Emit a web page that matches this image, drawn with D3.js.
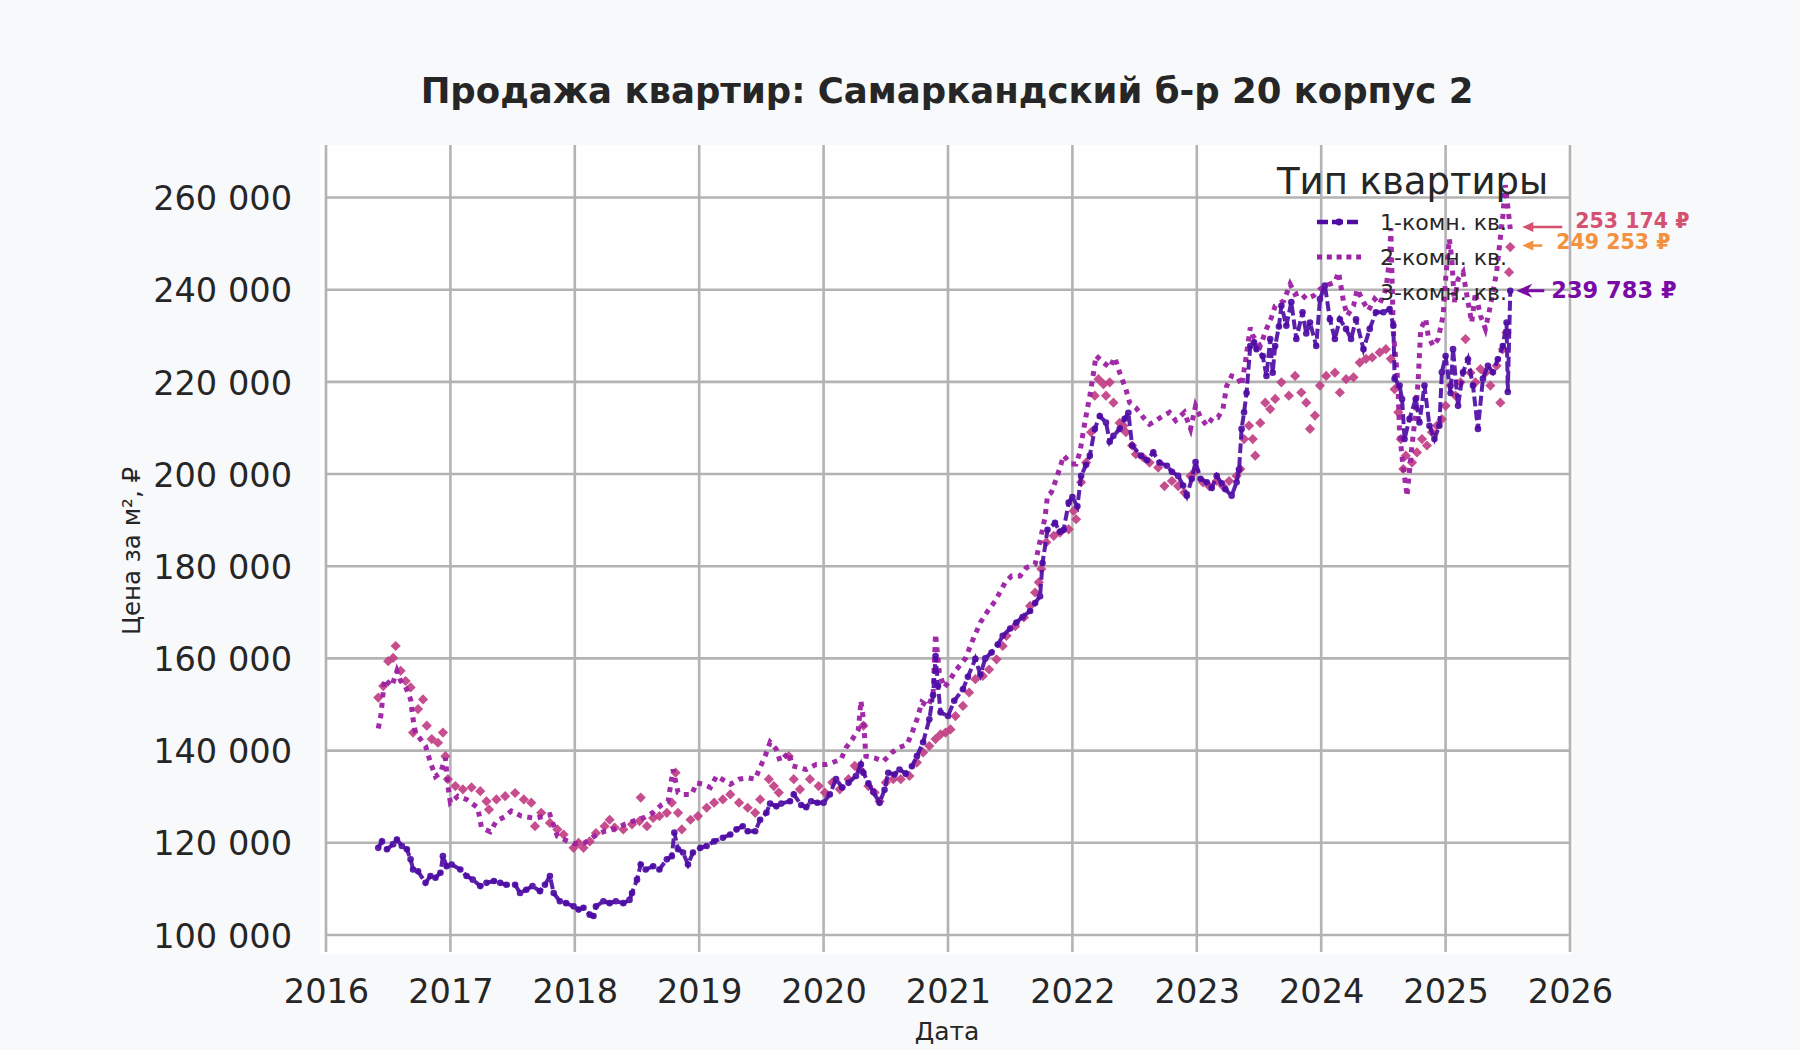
<!DOCTYPE html>
<html>
<head>
<meta charset="utf-8">
<script src="https://cdn.jsdelivr.net/npm/d3@7"></script>
<style>
  html, body { margin: 0; padding: 0; background: #f8f9fb; }
  svg { display: block; font-family: "DejaVu Sans", sans-serif; }
</style>
</head>
<body>
<div id="chart"></div>
<script>
var chartTitle = "Продажа квартир: Самаркандский б-р 20 корпус 2";
var seriesNames = ["1-комн. кв.", "2-комн. кв.", "3-комн. кв."];
var yearTicks = [2016, 2017, 2018, 2019, 2020, 2021, 2022, 2023, 2024, 2025, 2026];
var priceTicks = [100000, 120000, 140000, 160000, 180000, 200000, 220000, 240000, 260000];

// [год (дробный), цена за м²]
var oneRoom = [
  [2016.42,118900],[2016.45,120300],[2016.49,118600],[2016.54,119700],[2016.57,120700],[2016.61,119300],
  [2016.65,118600],[2016.68,116400],[2016.70,114200],[2016.74,113800],[2016.80,111300],[2016.84,112800],
  [2016.88,112400],[2016.92,113500],[2016.94,117100],[2016.97,114900],[2017.01,115300],[2017.08,114200],
  [2017.13,112800],[2017.18,112000],[2017.24,110600],[2017.29,111300],[2017.35,111700],[2017.40,111300],
  [2017.45,110900],[2017.52,110900],[2017.56,109100],[2017.61,109800],[2017.66,110600],[2017.72,109500],
  [2017.76,110900],[2017.80,112800],[2017.83,109100],[2017.88,107300],[2017.93,106900],[2017.99,106200],
  [2018.03,105500],[2018.07,105900],[2018.12,104400],[2018.15,104100],[2018.17,106200],[2018.23,107300],
  [2018.28,106900],[2018.33,107300],[2018.39,106900],[2018.44,107600],[2018.46,109100],[2018.50,112000],
  [2018.53,115300],[2018.57,114200],[2018.63,114900],[2018.68,114200],[2018.74,116400],[2018.78,117100],
  [2018.80,122200],[2018.83,118600],[2018.87,117900],[2018.91,115300],[2018.95,117900],[2019.01,118900],
  [2019.06,119300],[2019.12,120300],[2019.19,121100],[2019.25,121800],[2019.30,122900],[2019.35,123600],
  [2019.39,122500],[2019.45,122500],[2019.49,125000],[2019.54,126500],[2019.57,128500],[2019.62,127900],
  [2019.66,128500],[2019.73,129000],[2019.76,130500],[2019.82,128200],[2019.86,127700],[2019.90,129000],
  [2019.95,128700],[2020.00,128700],[2020.05,130500],[2020.10,133800],[2020.15,132000],[2020.20,133000],
  [2020.26,134500],[2020.30,137000],[2020.32,135200],[2020.36,132900],[2020.40,131000],[2020.45,128700],
  [2020.49,131500],[2020.52,135200],[2020.57,134800],[2020.61,135900],[2020.66,135000],[2020.71,136600],
  [2020.75,138800],[2020.80,141800],[2020.85,146800],[2020.88,152000],[2020.90,160500],[2020.92,154000],
  [2020.94,148300],[2021.00,147500],[2021.05,150800],[2021.12,153300],[2021.16,156000],[2021.22,159900],
  [2021.26,156500],[2021.30,160000],[2021.35,161300],[2021.40,163000],[2021.44,164900],[2021.50,166500],
  [2021.55,167800],[2021.60,169000],[2021.66,170300],[2021.70,172000],[2021.74,173500],[2021.76,180700],
  [2021.80,187900],[2021.86,189400],[2021.90,187500],[2021.93,187900],[2021.97,193800],[2022.00,195000],
  [2022.04,193000],[2022.07,199600],[2022.11,202000],[2022.14,204000],[2022.18,209800],[2022.22,212600],
  [2022.27,211200],[2022.30,207000],[2022.33,208300],[2022.38,209800],[2022.42,212000],[2022.45,213300],
  [2022.48,206200],[2022.55,204000],[2022.60,203000],[2022.65,204700],[2022.70,202500],[2022.76,201800],
  [2022.80,200500],[2022.85,199600],[2022.89,197500],[2022.92,195300],[2022.96,199000],[2022.99,202600],
  [2023.03,199000],[2023.08,198200],[2023.12,197000],[2023.16,199600],[2023.20,198000],[2023.23,196700],
  [2023.28,195300],[2023.32,198200],[2023.34,201000],[2023.36,209800],[2023.38,213400],[2023.40,217600],
  [2023.43,227800],[2023.46,228600],[2023.48,227100],[2023.53,225600],[2023.56,221300],[2023.59,229300],
  [2023.61,222000],[2023.63,227800],[2023.66,232000],[2023.68,236500],[2023.72,232200],[2023.76,237300],
  [2023.80,229300],[2023.85,235100],[2023.88,230500],[2023.91,232900],[2023.96,227800],[2023.99,238000],
  [2024.03,240900],[2024.07,233600],[2024.11,229300],[2024.15,233600],[2024.20,231500],[2024.24,229300],
  [2024.28,233600],[2024.34,227100],[2024.39,231500],[2024.44,235100],[2024.50,235100],[2024.55,235800],
  [2024.58,232200],[2024.59,220700],[2024.63,219200],[2024.65,216300],[2024.67,207600],[2024.71,212000],
  [2024.76,216300],[2024.79,211200],[2024.83,219200],[2024.87,210500],[2024.91,207600],[2024.95,210500],
  [2024.97,222100],[2025.00,225600],[2025.04,217600],[2025.06,227100],[2025.10,214800],[2025.14,222100],
  [2025.18,224900],[2025.22,219200],[2025.26,209800],[2025.30,220700],[2025.34,223500],[2025.38,222100],
  [2025.42,224900],[2025.46,227800],[2025.49,232900],[2025.50,217800],[2025.52,239783]
];

var twoRoom = [
  [2016.42,144800],[2016.44,147500],[2016.45,150000],[2016.47,155500],[2016.53,154000],[2016.57,157300],
  [2016.60,155100],[2016.64,153800],[2016.68,151100],[2016.70,146800],[2016.72,143900],[2016.80,141000],
  [2016.84,137400],[2016.88,134400],[2016.92,135200],[2016.96,138400],[2016.98,132300],[2017.00,128700],
  [2017.06,130100],[2017.13,129400],[2017.22,127600],[2017.25,123300],[2017.32,122400],[2017.37,124700],
  [2017.44,125700],[2017.49,126900],[2017.57,125800],[2017.68,125300],[2017.80,126100],[2017.86,121400],
  [2017.93,120500],[2018.00,119800],[2018.08,120000],[2018.16,121500],[2018.24,122500],[2018.32,123000],
  [2018.40,124000],[2018.48,124800],[2018.56,125500],[2018.63,126600],[2018.70,128300],[2018.75,129000],
  [2018.79,135900],[2018.83,130900],[2018.87,130500],[2018.94,130500],[2018.98,133000],[2019.03,132700],
  [2019.09,132000],[2019.14,134500],[2019.25,132700],[2019.32,133800],[2019.39,134100],[2019.45,133800],
  [2019.49,136400],[2019.53,138800],[2019.57,141800],[2019.62,140300],[2019.65,137700],[2019.72,139600],
  [2019.75,136700],[2019.86,135900],[2019.94,137000],[2020.02,137000],[2020.07,137400],[2020.14,138100],
  [2020.18,140600],[2020.23,142400],[2020.28,144600],[2020.30,150800],[2020.32,146800],[2020.34,138800],
  [2020.41,138400],[2020.48,137700],[2020.55,139600],[2020.60,140600],[2020.67,141300],[2020.71,143800],
  [2020.75,146700],[2020.79,150500],[2020.84,149600],[2020.88,152200],[2020.90,165300],[2020.93,157000],
  [2020.97,153700],[2021.01,155100],[2021.06,157300],[2021.14,160000],[2021.19,163400],[2021.26,167800],
  [2021.32,170300],[2021.38,172500],[2021.46,176500],[2021.51,177900],[2021.58,177900],[2021.63,179700],
  [2021.70,180400],[2021.74,185500],[2021.78,190600],[2021.80,195300],[2021.83,196000],[2021.87,198900],
  [2021.93,204000],[2021.99,202200],[2022.03,202200],[2022.06,204700],[2022.10,211200],[2022.14,217000],
  [2022.17,222000],[2022.19,225700],[2022.25,224200],[2022.30,223100],[2022.34,225300],[2022.38,222000],
  [2022.43,218400],[2022.46,215500],[2022.51,214400],[2022.57,212300],[2022.62,210800],[2022.67,211600],
  [2022.71,212300],[2022.78,213400],[2022.83,211600],[2022.90,213400],[2022.95,209800],[2022.99,214800],
  [2023.03,212300],[2023.08,210500],[2023.13,212300],[2023.17,212300],[2023.21,214100],[2023.24,219100],
  [2023.28,221300],[2023.33,221000],[2023.36,219200],[2023.39,224200],[2023.43,231800],[2023.45,230000],
  [2023.51,227800],[2023.56,231500],[2023.60,234000],[2023.63,236500],[2023.70,237600],[2023.75,241200],
  [2023.79,239000],[2023.83,239400],[2023.88,238000],[2023.94,238700],[2023.99,240100],[2024.04,240900],
  [2024.11,241600],[2024.14,243800],[2024.18,237300],[2024.21,234400],[2024.26,236500],[2024.29,240100],
  [2024.34,237300],[2024.38,235500],[2024.43,238000],[2024.47,236900],[2024.52,240100],[2024.55,246700],
  [2024.56,253300],[2024.58,230700],[2024.61,222000],[2024.62,217000],[2024.63,209000],[2024.66,201100],
  [2024.68,197500],[2024.69,195200],[2024.73,206200],[2024.76,213400],[2024.78,220600],[2024.80,231500],
  [2024.84,233700],[2024.86,230000],[2024.90,227800],[2024.94,229300],[2024.98,234400],[2025.00,242300],
  [2025.03,251000],[2025.05,246700],[2025.07,237300],[2025.10,242300],[2025.14,243800],[2025.18,237300],
  [2025.21,232900],[2025.24,239400],[2025.28,234400],[2025.32,231500],[2025.36,236500],[2025.41,243800],
  [2025.43,248800],[2025.46,256000],[2025.48,262700],[2025.50,258000],[2025.52,253174]
];

var threeRoom = [
  [2016.42,151500],[2016.46,154000],[2016.50,159400],[2016.54,160100],[2016.56,162700],[2016.60,157300],
  [2016.64,155100],[2016.68,153700],[2016.70,143900],[2016.74,149000],[2016.78,151100],[2016.81,145400],
  [2016.85,142500],[2016.90,141700],[2016.94,143900],[2016.96,138800],[2016.98,133800],[2017.04,132300],
  [2017.10,131600],[2017.17,132000],[2017.24,131200],[2017.29,129000],[2017.31,127200],[2017.37,129400],
  [2017.44,130100],[2017.52,130800],[2017.59,129400],[2017.65,128700],[2017.68,123600],[2017.73,126500],
  [2017.80,124300],[2017.86,122900],[2017.91,121800],[2017.99,118900],[2018.03,120000],[2018.07,118900],
  [2018.12,120300],[2018.17,122100],[2018.24,123600],[2018.28,125000],[2018.32,123300],[2018.39,122900],
  [2018.46,124000],[2018.52,124700],[2018.53,129800],[2018.58,123600],[2018.63,125400],[2018.68,125800],
  [2018.74,126500],[2018.78,128700],[2018.81,135200],[2018.83,126500],[2018.86,122900],[2018.93,125000],
  [2018.99,125800],[2019.06,127600],[2019.12,128700],[2019.19,129400],[2019.25,130500],[2019.32,128700],
  [2019.39,127600],[2019.45,126500],[2019.49,129400],[2019.56,133800],[2019.60,132300],[2019.64,130900],
  [2019.72,138800],[2019.76,133800],[2019.81,131600],[2019.89,133800],[2019.96,132300],[2020.01,130900],
  [2020.07,133100],[2020.13,131600],[2020.20,133800],[2020.25,136700],[2020.29,135900],[2020.32,145400],
  [2020.36,132300],[2020.41,130900],[2020.45,129000],[2020.50,133100],[2020.56,133800],[2020.62,133800],
  [2020.69,134500],[2020.75,137400],[2020.80,139600],[2020.85,141000],[2020.90,142500],[2020.94,143500],
  [2020.98,143900],[2021.02,144600],[2021.06,147500],[2021.12,149700],[2021.17,152600],[2021.22,155500],
  [2021.28,156200],[2021.33,157600],[2021.39,159800],[2021.44,162700],[2021.47,164900],[2021.54,167000],
  [2021.61,168900],[2021.66,171400],[2021.70,174300],[2021.73,176500],[2021.75,179400],[2021.79,185200],
  [2021.85,186600],[2021.90,187300],[2021.97,188000],[2022.01,192000],[2022.03,190200],[2022.07,198200],
  [2022.11,202500],[2022.15,209100],[2022.18,217000],[2022.21,220600],[2022.25,219500],[2022.27,217000],
  [2022.30,219900],[2022.33,215500],[2022.38,211100],[2022.41,210500],[2022.43,209100],[2022.48,206200],
  [2022.51,204300],[2022.57,203600],[2022.62,202500],[2022.69,201400],[2022.74,197400],[2022.80,198500],
  [2022.85,197400],[2022.90,196000],[2022.95,199600],[2022.99,200700],[2023.05,198200],[2023.10,197400],
  [2023.16,198500],[2023.21,197400],[2023.26,198500],[2023.32,199600],[2023.35,201100],[2023.38,207600],
  [2023.42,210500],[2023.45,207600],[2023.47,204000],[2023.51,211100],[2023.55,215500],[2023.59,214100],
  [2023.63,216300],[2023.68,219900],[2023.74,217000],[2023.79,221300],[2023.84,217700],[2023.88,215500],
  [2023.91,209800],[2023.95,212700],[2023.99,219200],[2024.04,221300],[2024.11,222000],[2024.15,217700],
  [2024.20,220600],[2024.26,221000],[2024.31,224200],[2024.36,225000],[2024.41,225300],[2024.47,226400],
  [2024.52,227100],[2024.56,225000],[2024.59,218400],[2024.62,213400],[2024.64,207600],[2024.66,201100],
  [2024.68,204000],[2024.73,202500],[2024.77,204700],[2024.81,207600],[2024.85,206200],[2024.89,209100],
  [2024.93,210500],[2024.97,211900],[2025.00,214800],[2025.04,219200],[2025.08,217000],[2025.12,219900],
  [2025.16,229300],[2025.20,222000],[2025.24,219900],[2025.28,222800],[2025.32,222000],[2025.36,219200],
  [2025.41,223500],[2025.44,215500],[2025.46,227100],[2025.49,230700],[2025.51,243800],[2025.52,249253]
];

var W = 1800, H = 1050;
var margin = { left: 326, right: 230, top: 145, bottom: 98 };

var locale = d3.formatLocale({ decimal: ",", thousands: " ", grouping: [3], currency: ["", " ₽"] });
var fmt = locale.format(",d");

var svg = d3.select("#chart").append("svg")
  .attr("width", W)
  .attr("height", H);

svg.append("rect").attr("width", W).attr("height", H).attr("fill", "#f8f9fb");

var x = d3.scaleLinear().domain([2016, 2026]).range([margin.left, W - margin.right]);
var y = d3.scaleLinear().domain([96300, 271400]).range([H - margin.bottom, margin.top]);

// plot panel
svg.append("rect")
  .attr("x", x.range()[0] - 6).attr("y", y.range()[1])
  .attr("width", x.range()[1] - x.range()[0] + 9)
  .attr("height", y.range()[0] - y.range()[1] + 2)
  .attr("fill", "#fefefe");

// grid
var grid = svg.append("g").attr("stroke", "#b3b3b3").attr("stroke-width", 2.6);
grid.selectAll("line.v").data(yearTicks).enter().append("line")
  .attr("x1", function(d) { return x(d); }).attr("x2", function(d) { return x(d); })
  .attr("y1", y.range()[1]).attr("y2", y.range()[0]);
grid.selectAll("line.h").data(priceTicks).enter().append("line")
  .attr("x1", x.range()[0]).attr("x2", x.range()[1])
  .attr("y1", function(d) { return y(d); }).attr("y2", function(d) { return y(d); });

// axes (labels only)
var xAxis = svg.append("g")
  .attr("transform", "translate(0," + (y.range()[0] + 24) + ")")
  .call(d3.axisBottom(x).tickValues(yearTicks).tickFormat(d3.format("d")).tickSize(0));
var yAxis = svg.append("g")
  .attr("transform", "translate(" + (x.range()[0] - 31) + ",0)")
  .call(d3.axisLeft(y).tickValues(priceTicks).tickFormat(fmt).tickSize(0));
[xAxis, yAxis].forEach(function(a) {
  a.select(".domain").remove();
  a.selectAll("text")
    .attr("font-family", "DejaVu Sans, sans-serif")
    .attr("font-size", 33.6)
    .attr("fill", "#262626");
});
yAxis.selectAll("text").attr("dy", "0.36em");

svg.append("text")
  .attr("x", 947).attr("y", 1040)
  .attr("text-anchor", "middle").attr("font-size", 25).attr("fill", "#262626")
  .text("Дата");
svg.append("text")
  .attr("transform", "translate(140," + 551 + ") rotate(-90)")
  .attr("text-anchor", "middle").attr("font-size", 24.5).attr("fill", "#262626")
  .text("Цена за м², ₽");

svg.append("text")
  .attr("x", 947).attr("y", 103)
  .attr("text-anchor", "middle").attr("font-size", 35.5).attr("font-weight", "bold")
  .attr("fill", "#262626")
  .text(chartTitle);

var line = d3.line()
  .x(function(d) { return x(d[0]); })
  .y(function(d) { return y(d[1]); });

var c1 = "#4e0ca4", c2 = "#9c1fa3", c3 = "#c23f84";

var plot = svg.append("g");

// 3-комн.: ромбы
plot.append("g").selectAll("path").data(threeRoom).enter().append("path")
  .attr("d", d3.symbol().type(d3.symbolSquare).size(52))
  .attr("transform", function(d) { return "translate(" + x(d[0]) + "," + y(d[1]) + ") rotate(45)"; })
  .attr("fill", c3).attr("fill-opacity", 0.92);

// 2-комн.: пунктир точками
plot.append("path").datum(twoRoom)
  .attr("d", line)
  .attr("fill", "none").attr("stroke", c2).attr("stroke-width", 5)
  .attr("stroke-dasharray", "5 5.5").attr("stroke-opacity", 0.95);

// 1-комн.: штрих + маркеры
plot.append("path").datum(oneRoom)
  .attr("d", line)
  .attr("fill", "none").attr("stroke", c1).attr("stroke-width", 4)
  .attr("stroke-dasharray", "10 4").attr("stroke-opacity", 0.92);
plot.append("g").selectAll("circle").data(oneRoom).enter().append("circle")
  .attr("cx", function(d) { return x(d[0]); })
  .attr("cy", function(d) { return y(d[1]); })
  .attr("r", 3.3)
  .attr("fill", c1).attr("fill-opacity", 0.92);

// legend
var legend = svg.append("g");
legend.append("text")
  .attr("x", 1277).attr("y", 194)
  .attr("font-size", 37).attr("fill", "#262626")
  .text("Тип квартиры");
var legendY = [222, 257, 292];
legend.append("line")
  .attr("x1", 1317).attr("x2", 1361).attr("y1", legendY[0]).attr("y2", legendY[0])
  .attr("stroke", c1).attr("stroke-width", 4.5).attr("stroke-dasharray", "11 4");
legend.append("circle").attr("cx", 1339).attr("cy", legendY[0]).attr("r", 3.4).attr("fill", c1);
legend.append("line")
  .attr("x1", 1317).attr("x2", 1361).attr("y1", legendY[1]).attr("y2", legendY[1])
  .attr("stroke", c2).attr("stroke-width", 5).attr("stroke-dasharray", "5 4.8");
legend.selectAll("text.item").data(seriesNames).enter().append("text")
  .attr("x", 1380).attr("y", function(d, i) { return legendY[i]; })
  .attr("dy", "0.35em")
  .attr("font-size", 22).attr("fill", "#262626")
  .text(function(d) { return d; });

// last-value annotations
var lastLabels = [
  { data: twoRoom, color: "#d4526f", size: 20.5, tail: 40, gap: 13, dy: -6 },
  { data: threeRoom, color: "#f3913e", size: 20.5, tail: 20, gap: 14, dy: -4 },
  { data: oneRoom, color: "#7a0aa6", size: 22.5, tail: 28, gap: 7, dy: -1 }
];
var ann = svg.append("g");
lastLabels.forEach(function(l, i) {
  var last = l.data[l.data.length - 1];
  var tipX = x(last[0]) + (i === 2 ? 6 : 12);
  var ty = y(last[1]) + (i === 0 ? -2 : (i === 1 ? -1.5 : 0));
  ann.append("line")
    .attr("x1", tipX + 8).attr("x2", tipX + l.tail)
    .attr("y1", ty).attr("y2", ty)
    .attr("stroke", l.color).attr("stroke-width", i === 2 ? 3 : 2.5);
  ann.append("path")
    .attr("d", i === 2
      ? "M" + tipX + "," + ty + " L" + (tipX + 16) + "," + (ty - 7) + " L" + (tipX + 11) + "," + ty + " L" + (tipX + 16) + "," + (ty + 7) + " Z"
      : "M" + tipX + "," + ty + " L" + (tipX + 11) + "," + (ty - 5) + " L" + (tipX + 11) + "," + (ty + 5) + " Z")
    .attr("fill", l.color);
  ann.append("text")
    .attr("x", tipX + l.tail + l.gap).attr("y", ty + l.dy)
    .attr("dy", "0.36em")
    .attr("font-size", l.size).attr("font-weight", "bold")
    .attr("fill", l.color)
    .text(fmt(last[1]) + " ₽");
});
</script>
</body>
</html>
